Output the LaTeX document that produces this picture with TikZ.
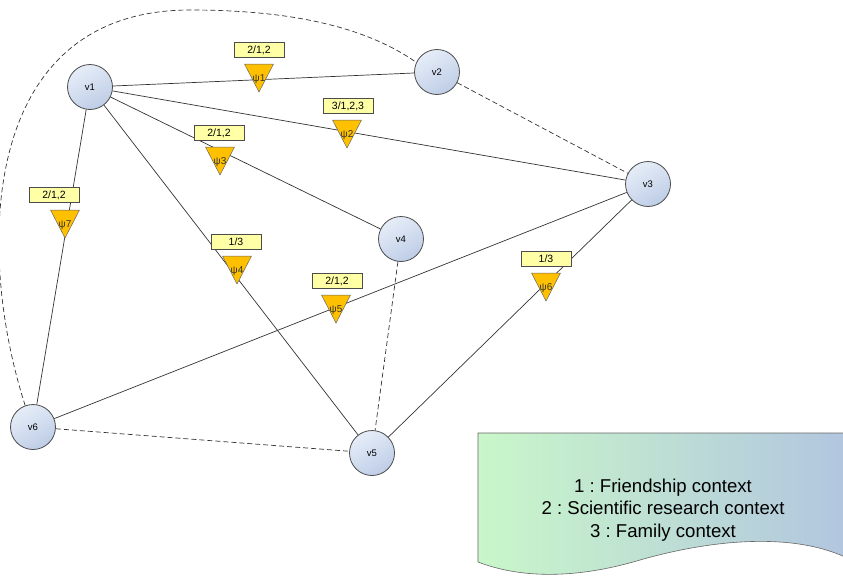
\documentclass[tikz,border=0pt]{standalone}
\usepackage{fontspec}
\setmainfont{Liberation Sans}
\definecolor{vtxtop}{HTML}{E6EDF8}
\definecolor{vtxbot}{HTML}{BECDE6}
\definecolor{ctxgold}{HTML}{FFC000}
\definecolor{ctxbox}{HTML}{FFFFA6}
\definecolor{legendgreen}{HTML}{C9F7C9}
\definecolor{legendblue}{HTML}{B2C6DF}

\begin{document}
\frenchspacing
\begin{tikzpicture}[x=1pt, y=-1pt,
  vertex/.style={circle, draw=black!70, line width=0.8pt, minimum size=45pt, inner sep=0pt,
    top color=vtxtop, bottom color=vtxbot, shading angle=30, font=\fontsize{9.5}{11}\selectfont},
  tie/.style={draw=black!80, line width=0.7pt},
  looseedge/.style={draw=black!80, line width=0.7pt, dash pattern=on 5pt off 3pt},
  ctxtri/.style={fill=ctxgold, draw=black!60, line width=0.5pt, line join=round},
  ctxname/.style={inner sep=0pt, font=\fontsize{10}{11}\selectfont, text=black!80},
  ctxlabel/.style={draw=black!70, fill=ctxbox, line width=0.6pt, minimum width=50pt,
    minimum height=15pt, inner sep=0pt, font=\fontsize{10.5}{12}\selectfont}
]
  \useasboundingbox (0,0) rectangle (843,581);

  % legend
  \path[left color=legendgreen, right color=legendblue, draw=black!60, line width=0.6pt]
    (478,433) -- (845,433) -- (845,557)
    .. controls (790,532) and (710,540) .. (640,560)
    .. controls (590,575) and (530,582) .. (478,562) -- cycle;
  \node[align=center, font=\fontsize{18.6}{22.5}\selectfont] (legend) at (663,510)
    {1 : Friendship context\\2 : Scientific research context\\3 : Family context};

  % persons
  \node[vertex] (v1) at (90,87) {v1};
  \node[vertex] (v2) at (437,72) {v2};
  \node[vertex] (v3) at (648,184) {v3};
  \node[vertex] (v4) at (401,239) {v4};
  \node[vertex] (v5) at (372,453) {v5};
  \node[vertex] (v6) at (33,427) {v6};

  \draw[tie] (v1) -- (v2);
  \draw[tie] (v1) -- (v3);
  \draw[tie] (v1) -- (v4);
  \draw[tie] (v1) -- (v5);
  \draw[tie] (v1) -- (v6);
  \draw[tie] (v6) -- (v3);
  \draw[tie] (v5) -- (v3);
  \draw[looseedge] (v2) -- (v3);
  \draw[looseedge] (v4) -- (v5);
  \draw[looseedge] (v6) -- (v5);
  \draw[looseedge] (v6.110) .. controls (-25,250) and (-20,10) .. (190,10)
    .. controls (300,10) and (370,30) .. (v2.155);

  % contexts: triangle top edge centre, then its name
  \foreach \tx/\ty in {259/64, 347/120, 220/147, 237/256, 336/295, 546/273, 65/210}
    \filldraw[ctxtri] (\tx-14.5,\ty) -- (\tx+14.5,\ty) -- (\tx,\ty+28) -- cycle;
  \node[ctxname] (psi1) at (259,79) {ψ1};
  \node[ctxname] (psi2) at (347,135) {ψ2};
  \node[ctxname] (psi3) at (220,162) {ψ3};
  \node[ctxname] (psi4) at (237,271) {ψ4};
  \node[ctxname] (psi5) at (336,310) {ψ5};
  \node[ctxname] (psi6) at (546,288) {ψ6};
  \node[ctxname] (psi7) at (65,225) {ψ7};

  \node[ctxlabel] (lab1) at (259,50) {2/1,2};
  \node[ctxlabel] (lab2) at (348,106) {3/1,2,3};
  \node[ctxlabel] (lab3) at (219,133) {2/1,2};
  \node[ctxlabel] (lab4) at (236,242) {1/3};
  \node[ctxlabel] (lab5) at (337,281) {2/1,2};
  \node[ctxlabel] (lab6) at (546,259) {1/3};
  \node[ctxlabel] (lab7) at (54,195) {2/1,2};
\end{tikzpicture}
\end{document}
